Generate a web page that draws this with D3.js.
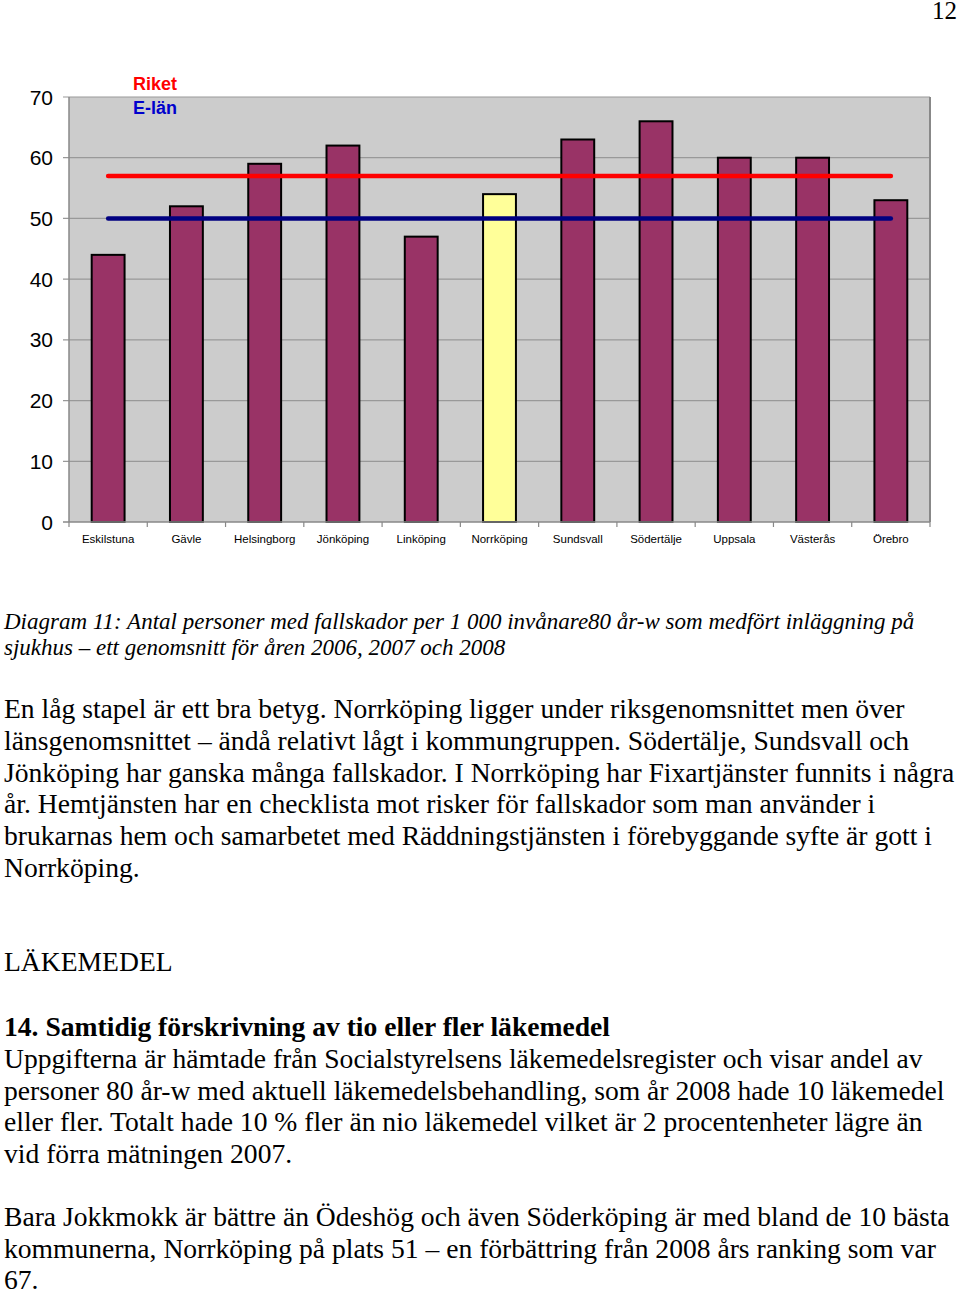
<!DOCTYPE html>
<html><head><meta charset="utf-8">
<script src="https://cdn.jsdelivr.net/npm/d3@7"></script>
<style>body{margin:0;background:#fff}svg{display:block}</style>
</head><body>
<script>
const categories = ["Eskilstuna","Gävle","Helsingborg","Jönköping","Linköping","Norrköping","Sundsvall","Södertälje","Uppsala","Västerås","Örebro"];
const values = [44,52,59,62,47,54,63,66,60,60,53];
const highlight = "Norrköping";
const riket = 57;
const elan = 50;
const yTicks = [0,10,20,30,40,50,60,70];
const captionLines = ["Diagram 11: Antal personer med fallskador per 1 000 invånare80 år-w som medfört inläggning på",
 "sjukhus – ett genomsnitt för åren 2006, 2007 och 2008"];
const para1 = ["En låg stapel är ett bra betyg. Norrköping ligger under riksgenomsnittet men över",
 "länsgenomsnittet – ändå relativt lågt i kommungruppen. Södertälje, Sundsvall och",
 "Jönköping har ganska många fallskador. I Norrköping har Fixartjänster funnits i några",
 "år. Hemtjänsten har en checklista mot risker för fallskador som man använder i",
 "brukarnas hem och samarbetet med Räddningstjänsten i förebyggande syfte är gott i",
 "Norrköping."];
const heading = "LÄKEMEDEL";
const subheading = "14. Samtidig förskrivning av tio eller fler läkemedel";
const para2 = ["Uppgifterna är hämtade från Socialstyrelsens läkemedelsregister och visar andel av",
 "personer 80 år-w med aktuell läkemedelsbehandling, som år 2008 hade 10 läkemedel",
 "eller fler. Totalt hade 10 % fler än nio läkemedel vilket är 2 procentenheter lägre än",
 "vid förra mätningen 2007."];
const para3 = ["Bara Jokkmokk är bättre än Ödeshög och även Söderköping är med bland de 10 bästa",
 "kommunerna, Norrköping på plats 51 – en förbättring från 2008 års ranking som var",
 "67."];

const W=960,H=1292;
const svg=d3.select("body").append("svg").attr("width",W).attr("height",H);
const L=69,R=930,T=97,B=522;
const x=d3.scaleBand().domain(categories).range([L,R]).paddingInner(0.58).paddingOuter(0.29);
const y=d3.scaleLinear().domain([0,70]).range([B,T]);
const sans="Arial, 'Liberation Sans', sans-serif";
const serif="'Times New Roman', 'Liberation Serif', serif";

svg.append("rect").attr("x",L).attr("y",T).attr("width",R-L).attr("height",B-T).attr("fill","#cccccc");
svg.selectAll(".grid").data(yTicks.filter(d=>d>0)).join("line")
 .attr("x1",L-6).attr("x2",R).attr("y1",d=>y(d)).attr("y2",d=>y(d))
 .attr("stroke","#999").attr("stroke-width",1.2);
svg.append("line").attr("x1",R).attr("x2",R).attr("y1",T).attr("y2",B).attr("stroke","#888").attr("stroke-width",2);
svg.append("line").attr("x1",L).attr("x2",L).attr("y1",T).attr("y2",B).attr("stroke","#888").attr("stroke-width",1.5);
svg.append("line").attr("x1",L-6).attr("x2",L).attr("y1",B).attr("y2",B).attr("stroke","#888").attr("stroke-width",1.5);

svg.selectAll(".yl").data(yTicks).join("text")
 .attr("x",53).attr("y",d=>y(d)+7.5).attr("text-anchor","end")
 .attr("font-family",sans).attr("font-size",21).attr("fill","#000").text(d=>d);

svg.selectAll(".bar").data(categories).join("rect")
 .attr("x",d=>x(d)).attr("width",x.bandwidth())
 .attr("y",(d,i)=>y(values[i])).attr("height",(d,i)=>B-y(values[i]))
 .attr("fill",d=>d===highlight?"#ffff99":"#993366")
 .attr("stroke","#000").attr("stroke-width",2);

svg.append("line").attr("x1",L).attr("x2",R).attr("y1",B).attr("y2",B).attr("stroke","#888").attr("stroke-width",1.5);
const step=(R-L)/categories.length;
svg.selectAll(".xt").data(d3.range(categories.length+1)).join("line")
 .attr("x1",i=>L+i*step).attr("x2",i=>L+i*step).attr("y1",B).attr("y2",B+5)
 .attr("stroke","#888").attr("stroke-width",1.2);
svg.selectAll(".xl").data(categories).join("text")
 .attr("x",d=>x(d)+x.bandwidth()/2).attr("y",543).attr("text-anchor","middle")
 .attr("font-family",sans).attr("font-size",11.5).attr("fill","#000").text(d=>d);

const c0=x(categories[0])+x.bandwidth()/2, c1=x(categories[categories.length-1])+x.bandwidth()/2;
[[riket,"#ff0000"],[elan,"#000080"]].forEach(([v,c])=>{
 svg.append("line").attr("x1",c0).attr("x2",c1).attr("y1",y(v)).attr("y2",y(v))
  .attr("stroke",c).attr("stroke-width",4.5).attr("stroke-linecap","round");
});
svg.append("text").attr("x",133).attr("y",90).attr("font-family",sans).attr("font-weight","bold")
 .attr("font-size",18).attr("fill","#ff0000").text("Riket");
svg.append("text").attr("x",133).attr("y",114).attr("font-family",sans).attr("font-weight","bold")
 .attr("font-size",18).attr("fill","#0000cc").text("E-län");

svg.append("text").attr("x",957).attr("y",19).attr("text-anchor","end").attr("font-family",serif)
 .attr("font-size",25).text("12");

function lines(arr,y0,dy,opts){
 arr.forEach((t,i)=>{
  const e=svg.append("text").attr("x",4).attr("y",y0+i*dy).attr("font-family",serif)
   .attr("font-size",opts.size).attr("fill","#000").text(t);
  if(opts.italic) e.attr("font-style","italic");
  if(opts.bold) e.attr("font-weight","bold");
 });
}
lines(captionLines,629,26,{size:23});
svg.selectAll("text").filter(function(){return captionLines.includes(this.textContent);}).attr("font-style","italic");
lines(para1,718,31.8,{size:27.6});
lines([heading],971,0,{size:27.6});
lines([subheading],1036,0,{size:27.6,bold:true});
lines(para2,1068,31.7,{size:27.6});
lines(para3,1226,31.7,{size:27.6});
</script>
</body></html>
